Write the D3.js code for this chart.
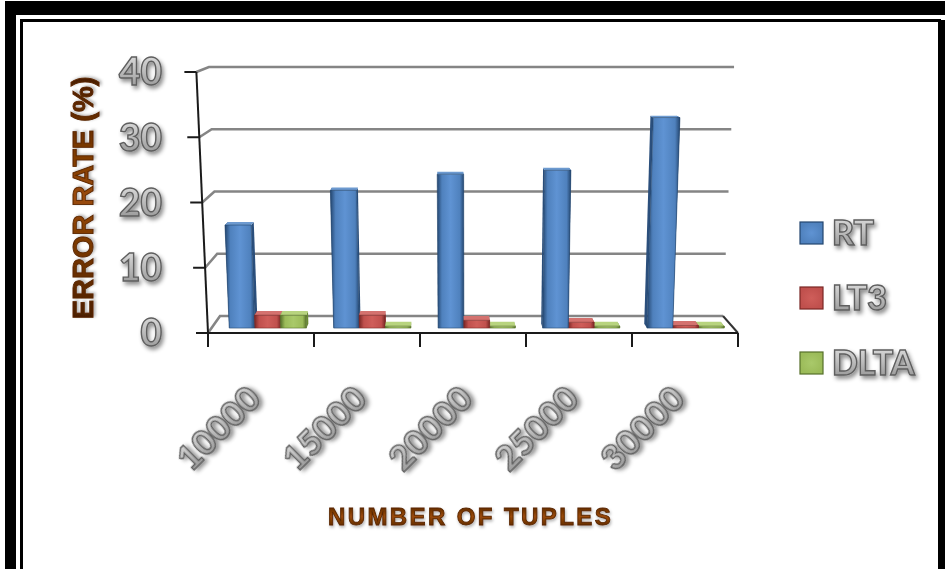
<!DOCTYPE html>
<html>
<head>
<meta charset="utf-8">
<script src="https://cdn.jsdelivr.net/npm/d3@7"></script>
<style>
  html, body { margin: 0; padding: 0; background: #ffffff; }
  svg { display: block; }
</style>
</head>
<body>
<svg id="chart" width="945" height="569"></svg>
<script>
// ---------- data ----------
const categories = ["10000", "15000", "20000", "25000", "30000"];
const seriesNames = ["RT", "LT3", "DLTA"];
const rtValues = [16.0, 21.4, 23.9, 24.5, 32.7];
const lt3Values = [2.0, 2.0, 1.2, 0.9, 0.4];
const dltaValues = [2.0, 0.3, 0.3, 0.3, 0.3];
const yTicks = [0, 10, 20, 30, 40];
const yTitle = "ERROR RATE (%)";
const xTitle = "NUMBER OF TUPLES";

const seriesValues = [rtValues, lt3Values, dltaValues];
const seriesColors = {
  RT:   { dark: "#24466f", base: "#4f81bd", light: "#5f93d3", side: "#2b4f7c", top: "#6d9ad0" },
  LT3:  { dark: "#7a2725", base: "#c0504d", light: "#cf5e5a", side: "#8a2f2d", top: "#d4726f" },
  DLTA: { dark: "#56702a", base: "#9bbb59", light: "#a9c96a", side: "#6a8a33", top: "#b8d47f" }
};

const svg = d3.select("#chart");
const defs = svg.append("defs");

// gradients
seriesNames.forEach(name => {
  const c = seriesColors[name];
  const g = defs.append("linearGradient").attr("id", "bar-" + name)
    .attr("x1", "0").attr("y1", "0").attr("x2", "1").attr("y2", "0");
  g.append("stop").attr("offset", "0").attr("stop-color", c.dark);
  g.append("stop").attr("offset", "0.18").attr("stop-color", c.base);
  g.append("stop").attr("offset", "0.5").attr("stop-color", c.light);
  g.append("stop").attr("offset", "0.85").attr("stop-color", c.base);
  g.append("stop").attr("offset", "1").attr("stop-color", c.dark);
  const l = defs.append("radialGradient").attr("id", "leg-" + name);
  l.append("stop").attr("offset", "0").attr("stop-color", c.light);
  l.append("stop").attr("offset", "1").attr("stop-color", c.base);
});
const grayGrad = defs.append("linearGradient").attr("id", "grayText")
  .attr("x1", "0").attr("y1", "0").attr("x2", "0").attr("y2", "1");
grayGrad.append("stop").attr("offset", "0").attr("stop-color", "#e6e6e6");
grayGrad.append("stop").attr("offset", "0.5").attr("stop-color", "#bdbdbd");
grayGrad.append("stop").attr("offset", "1").attr("stop-color", "#8c8c8c");
const brownGrad = defs.append("linearGradient").attr("id", "brownText")
  .attr("x1", "0").attr("y1", "0").attr("x2", "0").attr("y2", "1");
brownGrad.append("stop").attr("offset", "0").attr("stop-color", "#4a1e00");
brownGrad.append("stop").attr("offset", "0.5").attr("stop-color", "#9a4a08");
brownGrad.append("stop").attr("offset", "1").attr("stop-color", "#4a1e00");
const brownGradV = defs.append("linearGradient").attr("id", "brownTextV")
  .attr("x1", "0").attr("y1", "0").attr("x2", "1").attr("y2", "0");
brownGradV.append("stop").attr("offset", "0").attr("stop-color", "#4a1e00");
brownGradV.append("stop").attr("offset", "0.5").attr("stop-color", "#9a4a08");
brownGradV.append("stop").attr("offset", "1").attr("stop-color", "#4a1e00");

const shadow = defs.append("filter").attr("id", "shadow")
  .attr("x", "-20%").attr("y", "-20%").attr("width", "150%").attr("height", "150%");
shadow.append("feDropShadow").attr("dx", 2).attr("dy", 3).attr("stdDeviation", 2)
  .attr("flood-color", "#000").attr("flood-opacity", 0.45);
const softShadow = defs.append("filter").attr("id", "softShadow")
  .attr("x", "-10%").attr("y", "-30%").attr("width", "130%").attr("height", "170%");
softShadow.append("feDropShadow").attr("dx", 1).attr("dy", 2).attr("stdDeviation", 1.5)
  .attr("flood-color", "#000").attr("flood-opacity", 0.3);
const blur = defs.append("filter").attr("id", "lineBlur");
blur.append("feGaussianBlur").attr("stdDeviation", 0.5);

// ---------- frame ----------
svg.append("path").attr("fill", "#000")
  .attr("d", "M5,1 H945 V15 H16 V569 H5 Z");
svg.append("path").attr("fill", "none").attr("stroke", "#000").attr("stroke-width", 3)
  .attr("d", "M21.5,569 V20.5 H939.5 V569");
svg.append("rect").attr("x", 939).attr("y", 20).attr("width", 6).attr("height", 549).attr("fill", "#000");

// ---------- scales / projection ----------
const x = d3.scaleBand().domain(categories).range([0, 1]);
const xInner = d3.scaleBand().domain(seriesNames)
  .range([x.bandwidth() * 0.17, x.bandwidth() * 0.91]);
const yFront = d3.scaleLinear().domain([0, 40]).range([333, 72]);
const yBack = d3.scaleLinear().domain([0, 40]).range([316, 67]);
const floorFront = d3.scaleLinear().domain([0, 1]).range([208, 738]);
const floorBack = d3.scaleLinear().domain([0, 1]).range([220, 723]);
const cx = 472;

function proj(u, v, d) {
  const x0 = floorFront(u) + d * (floorBack(u) - floorFront(u));
  const xx = cx + (x0 - cx) * (1 + 0.0011 * v);
  const yy = yFront(v) + d * (yBack(v) - yFront(v));
  return [xx, yy];
}
const poly = pts => "M" + pts.map(p => p[0].toFixed(2) + "," + p[1].toFixed(2)).join("L") + "Z";
const line = pts => "M" + pts.map(p => p[0].toFixed(2) + "," + p[1].toFixed(2)).join("L");

// floor
svg.append("path").attr("fill", "#ffffff")
  .attr("d", poly([proj(0, 0, 0), proj(1, 0, 0), proj(1, 0, 1), proj(0, 0, 1)]));

// gridlines (back wall + left wall diagonals)
const grid = svg.append("g").attr("fill", "none").attr("stroke", "#858585")
  .attr("stroke-width", 2.6).attr("filter", "url(#lineBlur)");
yTicks.forEach(v => {
  grid.append("path").attr("d", line([proj(0, v, 0), proj(0, v, 1), proj(1, v, 1)]));
});
// floor right edge
svg.append("path").attr("fill", "none").attr("stroke", "#333").attr("stroke-width", 2)
  .attr("d", line([proj(1, 0, 1), proj(1, 0, 0)]));

// ---------- bars ----------
const d0 = 0.29, d1 = 0.55;
const bars = [];
categories.forEach((cat, i) => {
  seriesNames.forEach((s, j) => {
    const u0 = x(cat) + xInner(s);
    const u1 = u0 + xInner.bandwidth();
    bars.push({ cat, s, u0, u1, v: seriesValues[j][i] });
  });
});
bars.sort((a, b) => Math.abs((b.u0 + b.u1) / 2 - 0.5) - Math.abs((a.u0 + a.u1) / 2 - 0.5));

const barG = svg.append("g");
bars.forEach(b => {
  const c = seriesColors[b.s];
  const g = barG.append("g");
  g.append("path").attr("fill", c.side)
    .attr("d", poly([proj(b.u0, 0, d0), proj(b.u0, b.v, d0), proj(b.u0, b.v, d1), proj(b.u0, 0, d1)]));
  g.append("path").attr("fill", c.side)
    .attr("d", poly([proj(b.u1, 0, d0), proj(b.u1, b.v, d0), proj(b.u1, b.v, d1), proj(b.u1, 0, d1)]));
  g.append("path").attr("fill", c.top)
    .attr("d", poly([proj(b.u0, b.v, d0), proj(b.u1, b.v, d0), proj(b.u1, b.v, d1), proj(b.u0, b.v, d1)]));
  g.append("path").attr("fill", "url(#bar-" + b.s + ")")
    .attr("stroke", c.dark).attr("stroke-width", 0.6)
    .attr("d", poly([proj(b.u0, 0, d0), proj(b.u1, 0, d0), proj(b.u1, b.v, d0), proj(b.u0, b.v, d0)]));
});

// ---------- axes ----------
const axisG = svg.append("g").attr("stroke", "#1a1a1a").attr("stroke-width", 2).attr("fill", "none");
axisG.append("path").attr("d", line([proj(0, 40, 0), proj(0, 0, 0)]));
yTicks.forEach(v => {
  const p = proj(0, v, 0);
  axisG.append("path").attr("d", line([[p[0] - 12, p[1]], p]));
});
axisG.append("path").attr("d", line([proj(0, 0, 0), proj(1, 0, 0)]));
const xEdges = categories.map(c => x(c)).concat([1]);
xEdges.forEach(u => {
  const p = proj(u, 0, 0);
  axisG.append("path").attr("d", line([p, [p[0], p[1] + 14]]));
});

// ---------- labels ----------
const embossFont = "Lato, 'Open Sans', sans-serif";
svg.append("g").selectAll("text").data(yTicks).join("text")
  .attr("x", 162)
  .attr("y", v => proj(0, v, 0)[1])
  .attr("dy", "0.36em")
  .attr("text-anchor", "end")
  .attr("font-family", embossFont).attr("font-weight", 900).attr("font-size", 37)
  .attr("fill", "url(#grayText)").attr("stroke", "#5e5e5e").attr("stroke-width", 1.4)
  .attr("filter", "url(#shadow)")
  .text(v => v);

svg.append("g").selectAll("text").data(categories).join("text")
  .attr("transform", c => {
    const p = proj(x(c) + x.bandwidth() / 2, 0, 0);
    return `translate(${p[0] + 2},401) rotate(-45)`;
  })
  .attr("text-anchor", "end")
  .attr("font-family", embossFont).attr("font-weight", 900).attr("font-size", 35)
  .attr("fill", "url(#grayText)").attr("stroke", "#5e5e5e").attr("stroke-width", 1.4)
  .attr("filter", "url(#shadow)")
  .text(c => c);

// axis titles
svg.append("text")
  .attr("transform", "translate(93,198) rotate(-90)")
  .attr("text-anchor", "middle")
  .attr("font-family", "'Liberation Sans', Arial, sans-serif").attr("font-weight", "bold")
  .attr("font-size", 29)
  .attr("fill", "url(#brownTextV)").attr("stroke", "#5a2600").attr("stroke-width", 0.9)
  .attr("filter", "url(#softShadow)")
  .text(yTitle);

svg.append("text")
  .attr("x", 328).attr("y", 525)
  .attr("font-family", "'Liberation Sans', Arial, sans-serif").attr("font-weight", "bold")
  .attr("font-size", 24).attr("letter-spacing", 2.4)
  .attr("fill", "url(#brownText)").attr("stroke", "#5a2600").attr("stroke-width", 0.9)
  .attr("filter", "url(#softShadow)")
  .text(xTitle);

// ---------- legend ----------
const legendY = d3.scalePoint().domain(seriesNames).range([233, 363]);
const leg = svg.append("g");
seriesNames.forEach(s => {
  const c = seriesColors[s];
  leg.append("rect").attr("x", 800).attr("y", legendY(s) - 11).attr("width", 23).attr("height", 22)
    .attr("fill", "url(#leg-" + s + ")").attr("stroke", c.dark).attr("stroke-width", 1.2);
  leg.append("text").attr("x", 832).attr("y", legendY(s)).attr("dy", "0.36em")
    .attr("font-family", embossFont).attr("font-weight", 900).attr("font-size", 34)
    .attr("fill", "url(#grayText)").attr("stroke", "#5e5e5e").attr("stroke-width", 1.4)
    .attr("filter", "url(#shadow)")
    .text(s);
});
</script>
</body>
</html>
